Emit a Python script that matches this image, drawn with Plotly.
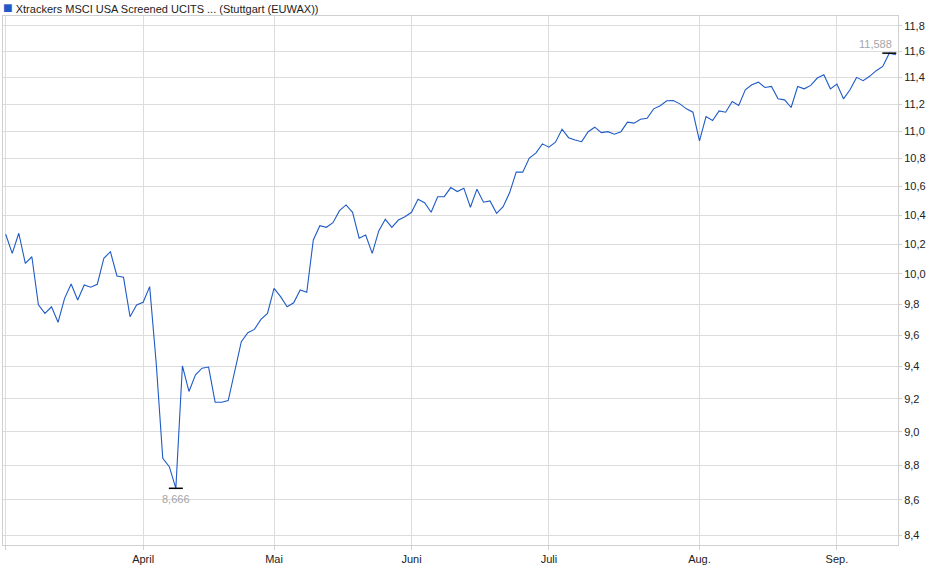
import numpy as np
import pandas as pd
import plotly.graph_objects as go

title = "Xtrackers MSCI USA Screened UCITS ... (Stuttgart (EUWAX))"

# trading days (Stuttgart closed on these weekdays)
first_day = "2025-03-03"
last_day = "2025-09-12"
holidays = ["2025-04-18", "2025-04-21", "2025-05-01"]

prices = [
    10.268, 10.138, 10.275, 10.071, 10.115, 9.795, 9.740, 9.783, 9.682, 9.838,
    9.933, 9.827, 9.926, 9.911, 9.931, 10.105, 10.149, 9.986, 9.977, 9.718,
    9.795, 9.812, 9.915, 9.421, 8.841, 8.792, 8.666, 9.404, 9.245, 9.348,
    9.390, 9.397, 9.179, 9.179, 9.189, 9.379, 9.557, 9.615, 9.636, 9.701,
    9.740, 9.904, 9.849, 9.783, 9.809, 9.893, 9.878, 10.229, 10.327, 10.316,
    10.348, 10.431, 10.471, 10.420, 10.241, 10.263, 10.138, 10.291, 10.371, 10.316,
    10.366, 10.389, 10.420, 10.511, 10.487, 10.420, 10.529, 10.529, 10.593, 10.565,
    10.589, 10.455, 10.582, 10.490, 10.499, 10.413, 10.459, 10.558, 10.703, 10.703,
    10.804, 10.840, 10.907, 10.883, 10.919, 11.014, 10.952, 10.935, 10.923, 10.996,
    11.029, 10.989, 10.996, 10.977, 10.996, 11.066, 11.059, 11.088, 11.095, 11.165,
    11.188, 11.225, 11.227, 11.202, 11.165, 11.140, 10.928, 11.107, 11.078, 11.150,
    11.140, 11.220, 11.190, 11.308, 11.346, 11.366, 11.325, 11.333, 11.240, 11.232,
    11.175, 11.333, 11.315, 11.341, 11.397, 11.422, 11.315, 11.351, 11.240, 11.308,
    11.402, 11.377, 11.410, 11.453, 11.486, 11.588, 11.575,
]

month_ticks = ["2025-03-03", "2025-04-01", "2025-05-02", "2025-06-02",
               "2025-07-01", "2025-08-01", "2025-09-01"]
month_labels = ["", "April", "Mai", "Juni", "Juli", "Aug.", "Sep."]
price_ticks = [8.4, 8.6, 8.8, 9.0, 9.2, 9.4, 9.6, 9.8, 10.0, 10.2,
               10.4, 10.6, 10.8, 11.0, 11.2, 11.4, 11.6, 11.8]

days = pd.bdate_range(first_day, last_day)
days = days[~days.isin(pd.to_datetime(holidays))]
dates = days.strftime("%Y-%m-%d").tolist()

blue = "#1f5bc6"
grid = "#dcdcdc"
font = "Liberation Sans, Arial, sans-serif"


def de(v):
    return f"{v:.3f}".replace(".", ",")


fig = go.Figure()
fig.add_trace(go.Scatter(
    x=dates, y=prices, mode="lines",
    line=dict(color=blue, width=1.1),
    showlegend=False,
))

# min / max markers with labels
i_min = int(np.argmin(prices))
i_max = int(np.argmax(prices))
fig.add_trace(go.Scatter(
    x=[dates[i_min], dates[i_max]], y=[prices[i_min], prices[i_max]],
    mode="markers",
    marker=dict(symbol="line-ew", size=10, line=dict(width=1.5, color="black")),
    showlegend=False,
))
fig.add_annotation(
    x=dates[i_min], y=np.log10(prices[i_min]), text=de(prices[i_min]),
    xanchor="center", yanchor="middle", yshift=-11, showarrow=False,
    font=dict(color="#a6a6a6", size=11, family=font),
)
fig.add_annotation(
    x=dates[i_max], y=np.log10(prices[i_max]), text=de(prices[i_max]),
    xanchor="right", yanchor="middle", xshift=5, yshift=9, showarrow=False,
    font=dict(color="#a6a6a6", size=11, family=font),
)

fig.add_annotation(
    x=-0.002, y=1.017, xref="paper", yref="paper", xanchor="left", yanchor="middle",
    text=f'<span style="color:{blue};font-size:16px">■</span> {title}',
    showarrow=False, font=dict(size=11, color="#222222", family=font),
)

fig.update_layout(
    width=940, height=579,
    margin=dict(l=3, r=42, t=16, b=34),
    plot_bgcolor="white", paper_bgcolor="white",
    font=dict(family=font, size=11, color="#222222"),
    separators=",.",
    xaxis=dict(
        type="category", range=[-0.41, 136.33],
        tickvals=month_ticks, ticktext=month_labels,
        showgrid=True, gridcolor=grid, gridwidth=1,
        showline=True, linecolor="#d0d0d0", mirror=True,
        ticks="outside", ticklen=4, tickcolor="#d0d0d0",
        zeroline=False,
    ),
    yaxis=dict(
        type="log", side="right", range=[0.92138, 1.07478],
        tickvals=price_ticks, tickformat=".1f",
        showgrid=True, gridcolor=grid, gridwidth=1,
        showline=True, linecolor="#d0d0d0", mirror=True,
        ticks="outside", ticklen=3, tickcolor="#d0d0d0",
        zeroline=False,
    ),
)

fig.write_html("out.html", config={"displayModeBar": False},
               post_script="document.body.style.margin='0';")
